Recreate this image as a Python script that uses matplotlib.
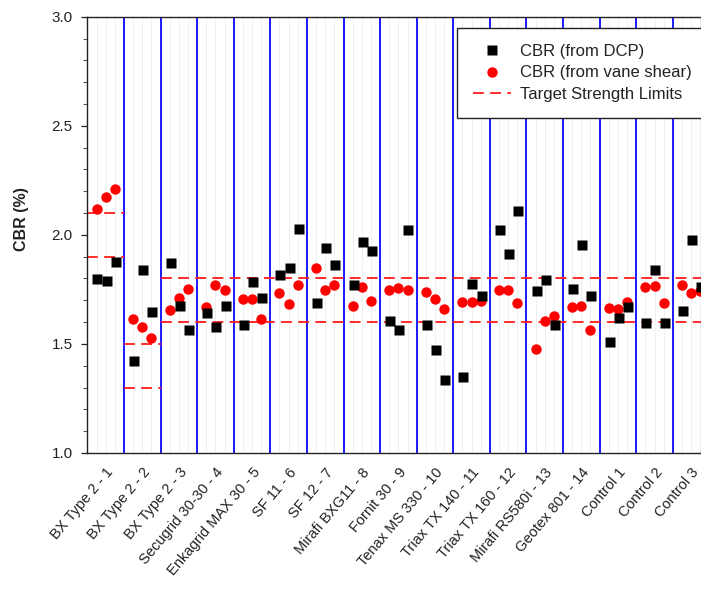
import matplotlib
matplotlib.use("Agg")
import matplotlib.pyplot as plt
from matplotlib.ticker import MultipleLocator, FixedLocator, FormatStrFormatter
from matplotlib.lines import Line2D
import numpy as np

plt.rcParams['font.family'] = ['Liberation Sans', 'DejaVu Sans']

sections = ["BX Type 2 - 1", "BX Type 2 - 2", "BX Type 2 - 3", "Secugrid 30-30 - 4",
            "Enkagrid MAX 30 - 5", "SF 11 - 6", "SF 12 - 7", "Mirafi BXG11 - 8",
            "Fornit 30 - 9", "Tenax MS 330 - 10", "Triax TX 140 - 11", "Triax TX 160 - 12",
            "Mirafi RS580i - 13", "Geotex 801 - 14", "Control 1", "Control 2", "Control 3"]

# three test locations per section
cbr_dcp = [
    [1.797, 1.789, 1.876],
    [1.420, 1.840, 1.646],
    [1.870, 1.675, 1.562],
    [1.641, 1.576, 1.675],
    [1.586, 1.782, 1.710],
    [1.814, 1.850, 2.027],
    [1.687, 1.942, 1.863],
    [1.771, 1.969, 1.928],
    [1.606, 1.565, 2.023],
    [1.588, 1.473, 1.336],
    [1.348, 1.776, 1.721],
    [2.023, 1.913, 2.108],
    [1.744, 1.791, 1.588],
    [1.751, 1.954, 1.721],
    [1.507, 1.618, 1.667],
    [1.598, 1.838, 1.597],
    [1.653, 1.977, 1.763],
]

cbr_vane = [
    [2.119, 2.174, 2.211],
    [1.614, 1.576, 1.527],
    [1.656, 1.710, 1.751],
    [1.669, 1.768, 1.748],
    [1.705, 1.707, 1.615],
    [1.733, 1.684, 1.769],
    [1.847, 1.748, 1.771],
    [1.675, 1.763, 1.695],
    [1.745, 1.756, 1.745],
    [1.737, 1.705, 1.660],
    [1.690, 1.690, 1.695],
    [1.745, 1.745, 1.687],
    [1.476, 1.605, 1.626],
    [1.669, 1.672, 1.565],
    [1.664, 1.660, 1.693],
    [1.763, 1.766, 1.687],
    [1.769, 1.733, 1.743],
]

# target strength limits: (first section, last section, lower, upper)
target_limits = [
    (0, 0, 1.9, 2.1),
    (1, 1, 1.3, 1.5),
    (2, 16, 1.6, 1.8),
]

n = len(sections)
w = 4  # width of one section in x units

fig = plt.figure(figsize=(7.01, 5.92), dpi=100)
ax = fig.add_axes([87.4 / 701, 1 - 453 / 592, 622 / 701, 436.3 / 592])

ax.set_xlim(0, n * w)
ax.set_ylim(1.0, 3.0)

# faint guide lines at every test location
for xv in range(1, n * w):
    if xv % w:
        ax.axvline(xv, color='#ededed', lw=0.6, zorder=0)

# section dividers
for k in range(1, n):
    ax.axvline(k * w, color='#1a1aff', lw=1.4, zorder=1)

for a, b, lo, hi in target_limits:
    for yv in (lo, hi):
        ax.plot([a * w, (b + 1) * w], [yv, yv], color='#ff1a1a', lw=1.3,
                dashes=(6, 3.5), zorder=2)

xs = np.array([[k * w + 1, k * w + 2, k * w + 3] for k in range(n)])
ax.plot(xs.ravel(), np.array(cbr_vane).ravel(), 'o', color='#ff0000', ms=7.5,
        mec='none', zorder=3)
ax.plot(xs.ravel() + 0.1, np.array(cbr_dcp).ravel(), 's', color='#000000', ms=7,
        mec='none', zorder=4)

ax.yaxis.set_major_locator(MultipleLocator(0.5))
ax.yaxis.set_minor_locator(MultipleLocator(0.1))
ax.yaxis.set_major_formatter(FormatStrFormatter('%.1f'))
ax.tick_params(axis='y', which='major', length=4.5, width=0.9, pad=6, labelsize=11,
               direction='out', colors='#222222')
ax.tick_params(axis='y', which='minor', length=3, width=0.8, direction='out',
               colors='#555555')

ax.xaxis.set_major_locator(FixedLocator([k * w + 2 for k in range(n)]))
ax.set_xticklabels(sections, rotation=50, ha='right', va='top',
                   rotation_mode='anchor', fontsize=10.5, color='#222222')
ax.tick_params(axis='x', length=0, pad=9)

for s in ax.spines.values():
    s.set_color('#222222')
    s.set_linewidth(1.0)

fig.text(21.7 / 701, 1 - 219 / 592, 'CBR (%)', rotation=90, ha='center', va='center',
         fontsize=11.5, fontweight='bold', color='#222222')

handles = [
    Line2D([], [], ls='none', marker='s', color='#000000', ms=7, mec='none'),
    Line2D([], [], ls='none', marker='o', color='#ff0000', ms=7.5, mec='none'),
    Line2D([], [], color='#ff1a1a', lw=1.3, dashes=(6, 3.5)),
]
labels = ['CBR (from DCP)', 'CBR (from vane shear)', 'Target Strength Limits']
leg = fig.legend(handles, labels, loc='upper left',
                 bbox_to_anchor=(456.7 / 701, 1 - 28.3 / 592),
                 fontsize=12, frameon=True, fancybox=False, framealpha=1,
                 edgecolor='#222222', handlelength=2.3, labelspacing=0.38,
                 borderpad=0.95, handletextpad=0.55, borderaxespad=0)
leg.get_frame().set_linewidth(1.0)
for t in leg.get_texts():
    t.set_color('#222222')

fig.savefig('out.png', dpi=100)
